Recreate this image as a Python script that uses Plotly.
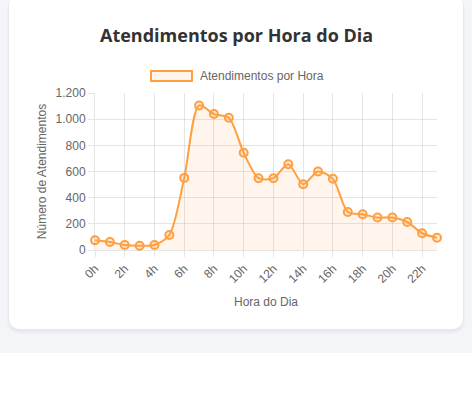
import plotly.graph_objects as go

hours = [f"{h}h" for h in range(24)]
atendimentos = [74, 61, 38, 33, 38, 115, 551, 1105, 1039, 1011, 743, 549,
                549, 656, 503, 600, 544, 291, 273, 248, 248, 214, 128, 94]
tick_labels = hours[::2]
series_name = "Atendimentos por Hora"

W, H = 472, 395
L, R, T, B = 95, 35, 93, 145
PW, PH = W - L - R, H - T - B


def fx(px):
    return (px - L) / PW


def fy(py):
    return (H - B - py) / PH


ORANGE = "rgb(255,159,64)"
FILL = "rgba(255,159,64,0.1)"
GRID = "rgba(0,0,0,0.1)"
FONT = "Liberation Sans, Arial, sans-serif"

fig = go.Figure()
fig.add_trace(go.Scatter(
    x=hours, y=atendimentos, name=series_name,
    mode="lines+markers",
    line=dict(color=ORANGE, width=2, shape="spline", smoothing=0.8),
    fill="tozeroy", fillcolor=FILL,
    marker=dict(size=8, color="rgba(255,159,64,0.2)",
                line=dict(color=ORANGE, width=2)),
    cliponaxis=False, showlegend=False, hoverinfo="skip",
))


def rounded(px0, py0, px1, py1, r):
    x0, x1 = fx(px0), fx(px1)
    y0, y1 = fy(py1), fy(py0)
    rx, ry = r / PW, r / PH
    return (f"M {x0+rx},{y1} L {x1-rx},{y1} Q {x1},{y1} {x1},{y1-ry} "
            f"L {x1},{y0+ry} Q {x1},{y0} {x1-rx},{y0} L {x0+rx},{y0} "
            f"Q {x0},{y0} {x0},{y0+ry} L {x0},{y1-ry} Q {x0},{y1} {x0+rx},{y1} Z")


shapes = [
    # white page area below the gray section
    dict(type="rect", xref="paper", yref="paper",
         x0=fx(-5), x1=fx(W + 5), y0=fy(H + 5), y1=fy(353),
         fillcolor="white", line=dict(width=0), layer="below"),
    # soft card shadow
    dict(type="path", xref="paper", yref="paper", path=rounded(7, -4, 465, 334, 14),
         fillcolor="rgba(0,0,0,0.025)", line=dict(width=0), layer="below"),
    dict(type="path", xref="paper", yref="paper", path=rounded(8, -5, 464, 332, 13),
         fillcolor="rgba(0,0,0,0.025)", line=dict(width=0), layer="below"),
    # card
    dict(type="path", xref="paper", yref="paper", path=rounded(9, -6, 463, 329, 12),
         fillcolor="white", line=dict(width=0), layer="below"),
    # legend swatch
    dict(type="rect", xref="paper", yref="paper",
         x0=fx(151), x1=fx(192), y0=fy(81), y1=fy(71),
         fillcolor=FILL, line=dict(color=ORANGE, width=2), layer="above"),
]

annotations = [
    dict(text="<b>Atendimentos por Hora do Dia</b>", xref="paper", yref="paper",
         x=fx(236), y=fy(35), xanchor="center", yanchor="middle", showarrow=False,
         font=dict(family="Open Sans, sans-serif", size=18, color="#333333")),
    dict(text=series_name, xref="paper", yref="paper",
         x=fx(198), y=fy(76), xanchor="left", yanchor="middle", showarrow=False,
         font=dict(family=FONT, size=12, color="#666666")),
]

fig.update_layout(
    width=W, height=H,
    margin=dict(l=L, r=R, t=T, b=B, pad=0),
    paper_bgcolor="#f4f5f9", plot_bgcolor="rgba(0,0,0,0)",
    separators=",.",
    font=dict(family=FONT, size=12, color="#666666"),
    shapes=shapes, annotations=annotations, showlegend=False,
    xaxis=dict(
        type="category", range=[0, 23], tickmode="array", tickvals=tick_labels,
        ticktext=tick_labels, tickangle=-45, showgrid=True, gridcolor=GRID,
        showline=True, linecolor=GRID, ticks="outside", ticklen=6, tickcolor=GRID,
        title=dict(text="Hora do Dia", font=dict(size=12, color="#666666"), standoff=12),
        tickfont=dict(size=12, color="#666666"), zeroline=False,
    ),
    yaxis=dict(
        range=[0, 1200], dtick=200, tickformat=",d", showgrid=True, gridcolor=GRID,
        showline=True, linecolor=GRID, ticks="outside", ticklen=6, tickcolor=GRID,
        title=dict(text="Número de Atendimentos", font=dict(size=12, color="#666666"), standoff=6),
        tickfont=dict(size=12, color="#666666"), zeroline=False,
    ),
)

fig.write_html(
    "out.html",
    config={"displayModeBar": False},
    post_script="document.body.style.margin='0';document.body.style.overflow='hidden';",
)
